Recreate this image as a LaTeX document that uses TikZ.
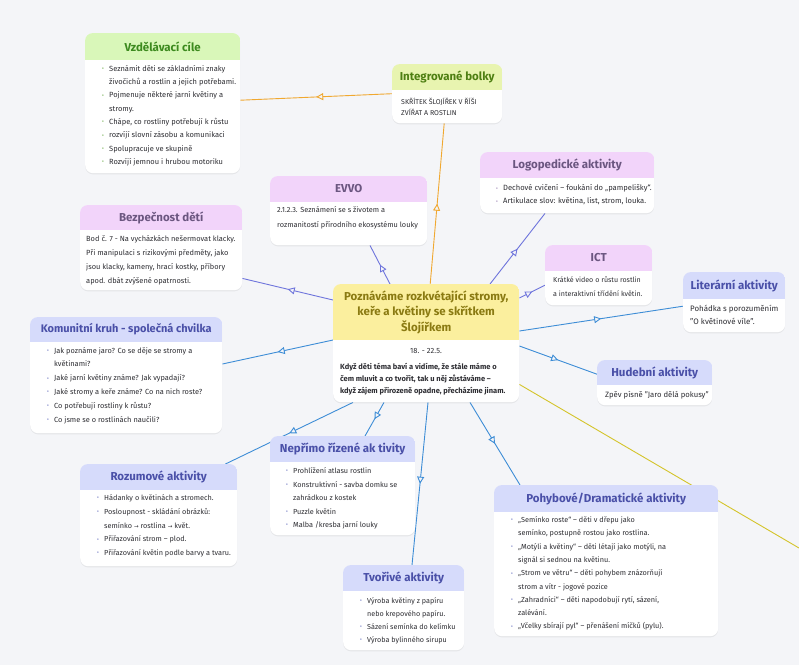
\documentclass[tikz,border=0pt]{standalone}
\usepackage{fontspec}
\setmainfont{Fira Sans}
\newfontfamily\symf{DejaVu Sans}
\usetikzlibrary{arrows.meta,decorations.markings,shadows}
\pgfdeclarelayer{back}
\pgfdeclarelayer{lines}
\pgfsetlayers{back,lines,main}

\definecolor{bgc}{HTML}{F4F5F8}
\definecolor{HG}{HTML}{D9F7B9}\definecolor{TG}{HTML}{3C8A1E}\definecolor{DG}{HTML}{5AA032}
\definecolor{HY}{HTML}{E8F4B0}\definecolor{TY}{HTML}{4E7F12}\definecolor{DY}{HTML}{7A9A20}
\definecolor{HP}{HTML}{F2D4FA}\definecolor{TP}{HTML}{6B5680}\definecolor{DP}{HTML}{8C70A8}
\definecolor{HB}{HTML}{D6DBFB}\definecolor{TB}{HTML}{4A50A8}\definecolor{DB}{HTML}{5560B8}
\definecolor{HC}{HTML}{FBEF9E}\definecolor{TC}{HTML}{8A7A12}\definecolor{DC}{HTML}{8A7A12}
\definecolor{LP}{HTML}{6E74DC}\definecolor{LB}{HTML}{3D8DD6}\definecolor{LO}{HTML}{F0A830}\definecolor{LY}{HTML}{D4C42A}
\definecolor{txt}{HTML}{2E2E33}
\colorlet{bulc}{DB}

\newcommand\bl{\makebox[7pt][l]{\raisebox{0.6pt}{\fontsize{5.5}{5}\selectfont\textcolor{bulc}{•}}}}
\newcommand\cl{\hspace*{7pt}}
\newcommand\ar{{\symf\fontsize{5.5}{5}\selectfont →}}

\newcommand\mmbox[8]{%
  \node[mmshape, minimum width=#4pt, minimum height=#5pt, anchor=north west] (#1) at (#2,#3) {};
  \begin{scope}
    \clip[rounded corners=8pt] (#1.north west) rectangle (#1.south east);
    \fill[H#7] (#1.north west) rectangle ([yshift=-#6pt]#1.north east);
  \end{scope}
  \colorlet{bulc}{D#7}%
  \node[ttl, text=T#7] (#1-t) at ([yshift=-#6pt/2]#1.north) {#8};
}

\tikzset{
  mmshape/.style={rectangle, rounded corners=8pt, fill=white, draw=none, inner sep=0pt,
    drop shadow={opacity=0.10, shadow xshift=0pt, shadow yshift=-1.2pt, fill=black!60}},
  ttl/.style={font=\bfseries\fontsize{11.5}{15.5}\selectfont, align=center, inner sep=0pt},
  bodytxt/.style={font=\fontsize{7.4}{13.5}\selectfont, text=txt, align=left, anchor=north west, inner sep=0pt},
  conn/.style={line width=0.9pt, postaction={decorate},
    decoration={markings, mark=at position 0.5 with {\arrow{Triangle[length=7pt, width=7pt, fill=bgc]}}}},
}

\begin{document}
\begin{tikzpicture}[x=1pt, y=-1pt]
\begin{pgfonlayer}{back}
  \fill[bgc] (0,0) rectangle (799,665);
\end{pgfonlayer}
\useasboundingbox (0,0) rectangle (799,665);

% ---------- boxes ----------
\mmbox{vz}{85}{33}{155}{140}{27}{G}{Vzdělávací cíle}
\node[bodytxt, font=\fontsize{7.5}{13.3}\selectfont] (vz-b) at (102,65) {\bl Seznámit děti se základními znaky\\\cl živočichů a rostlin a jejich potřebami.\\\bl Pojmenuje některé jarní květiny a\\\cl stromy.\\\bl Chápe, co rostliny potřebují k růstu\\\bl rozvíjí slovní zásobu a komunikaci\\\bl Spolupracuje ve skupině\\\bl Rozvíjí jemnou i hrubou motoriku};

\mmbox{ib}{392}{64}{110}{59}{26}{Y}{Integrované bolky}
\node[bodytxt, font=\fontsize{7}{11.5}\selectfont] (ib-b) at (401,97.5) {SKŘÍTEK ŠLOJÍŘEK V ŘÍŠI\\ZVÍŘAT A ROSTLIN};

\mmbox{lg}{480}{152}{174}{61}{26}{P}{Logopedické aktivity}
\node[bodytxt, font=\fontsize{7.6}{13}\selectfont] (lg-b) at (496,184.5) {\bl Dechové cvičení – foukání do „pampelišky“.\\\bl Artikulace  slov: květina, list, strom, louka.};

\mmbox{ev}{270}{176}{157}{69}{26}{P}{EVVO}
\node[bodytxt, font=\fontsize{7.35}{15}\selectfont] (ev-b) at (277,206) {2.1.2.3. Seznámení se s životem a\\rozmanitostí přírodního ekosystému louky};

\mmbox{bz}{80}{205}{162}{85}{25}{P}{Bezpečnost dětí}
\node[bodytxt, font=\fontsize{7.45}{14}\selectfont] (bz-b) at (86,235) {Bod č. 7 - Na vycházkách nešermovat klacky.\\Při manipulaci s rizikovými předměty, jako\\jsou klacky, kameny, hrací kostky, příbory\\apod. dbát zvýšené opatrnosti.};

\mmbox{ict}{545}{245}{107}{60}{26}{P}{ICT}
\node[bodytxt, font=\fontsize{7.1}{13.5}\selectfont] (ict-b) at (553,276.5) {Krátké video o růstu rostlin\\a interaktivní třídění květin.};

\mmbox{lit}{683}{272}{102}{60}{27}{B}{Literární aktivity}
\node[bodytxt, font=\fontsize{7.9}{12.5}\selectfont] (lit-b) at (690,305) {Pohádka s porozuměním\\"O květinové víle".};

\mmbox{c}{333}{284}{186}{118}{56}{C}{Poznáváme rozkvétající stromy,\\keře a květiny se skřítkem\\Šlojířkem}
\node[font=\fontsize{7.5}{9}\selectfont, text=txt, inner sep=0pt] (c-d) at (426,351) {18. - 22.5.};
\node[bodytxt, font=\bfseries\fontsize{7.5}{12}\selectfont] (c-b) at (340,363.5) {Když děti téma baví a vidíme, že stále máme o\\čem mluvit a co tvořit, tak u něj zůstáváme –\\když zájem přirozeně opadne, přecházíme jinam.};

\mmbox{kk}{30}{317}{192}{116}{25}{B}{{\fontsize{11}{13}\selectfont Komunitní kruh - společná chvilka}}
\node[bodytxt, font=\fontsize{7.4}{13.8}\selectfont] (kk-b) at (47,347) {\bl Jak poznáme jaro? Co se děje se stromy a\\\cl květinami?\\\bl Jaké jarní květiny známe? Jak vypadají?\\\bl Jaké stromy a keře známe? Co na nich roste?\\\bl Co potřebují rostliny k růstu?\\\bl Co jsme se o rostlinách naučili?};

\mmbox{hu}{597}{360}{115}{45}{25}{B}{Hudební aktivity}
\node[bodytxt, font=\fontsize{7.7}{12}\selectfont] (hu-b) at (605,391) {Zpěv písně "Jaro dělá pokusy"};

\mmbox{ro}{80}{464}{157}{102}{26}{B}{Rozumové aktivity}
\node[bodytxt, font=\fontsize{7.3}{13.75}\selectfont] (ro-b) at (97,494.5) {\bl Hádanky o květinách a stromech.\\\bl Posloupnost  - skládání obrázků:\\\cl semínko \ar{} rostlina \ar{} květ.\\\bl Přiřazování strom – plod.\\\bl Přiřazování květin podle barvy a tvaru.};

\mmbox{np}{270}{436}{145}{99}{26}{B}{Nepřímo řízené ak tivity}
\node[bodytxt, font=\fontsize{7.3}{13.5}\selectfont] (np-b) at (286,467.5) {\bl Prohlížení atlasu rostlin\\\bl Konstruktivní - savba domku se\\\cl zahrádkou z kostek\\\bl Puzzle květin\\\bl Malba /kresba jarní louky};

\mmbox{tv}{343}{565}{121}{85}{26}{B}{Tvořivé aktivity}
\node[bodytxt, font=\fontsize{7.2}{13}\selectfont] (tv-b) at (360,597.5) {\bl Výroba květiny z papíru\\\cl nebo krepového papíru.\\\bl Sázení semínka do kelímku\\\bl Výroba bylinného sirupu};

\mmbox{po}{494}{485}{224}{151}{27}{B}{Pohybové/Dramatické aktivity}
\node[bodytxt, font=\fontsize{7.3}{13.3}\selectfont] (po-b) at (511,516.5) {\bl „Semínko roste“ – děti v dřepu jako\\\cl semínko, postupně rostou jako rostlina.\\\bl „Motýli a květiny“ – děti létají jako motýli, na\\\cl signál si sednou na květinu.\\\bl „Strom ve větru“ – děti pohybem znázorňují\\\cl strom a vítr - jogové pozice\\\bl „Zahradníci“ – děti napodobují rytí, sázení,\\\cl zalévání.\\\bl „Včelky sbírají pyl“ – přenášení míčků (pylu).};

% ---------- connectors ----------
\coordinate (yend) at (799,548);
\begin{pgfonlayer}{lines}
  \draw[conn, draw=LO] (ib.west) -- ([shift={(0,-3)}]vz.east);
  \draw[conn, draw=LO] ([shift={(4,0)}]c.north) -- ([shift={(-3,0)}]ib.south);
  \draw[conn, draw=LP] ([shift={(157,0)}]c.north west) -- ([shift={(65,0)}]lg.south west);
  \draw[conn, draw=LP] ([shift={(57,0)}]c.north west) -- ([shift={(100,0)}]ev.south west);
  \draw[conn, draw=LP] ([shift={(0,16)}]c.north west) -- ([shift={(0,-12)}]bz.south east);
  \draw[conn, draw=LP] ([shift={(0,14)}]c.north east) -- ([shift={(0,10)}]ict.west);
  \draw[conn, draw=LB] ([shift={(0,47)}]c.north east) -- ([shift={(0,4)}]lit.west);
  \draw[conn, draw=LB] ([shift={(0,62)}]c.north east) -- ([shift={(0,-8.5)}]hu.west);
  \draw[conn, draw=LB] ([shift={(137,0)}]c.south west) -- ([shift={(26,0)}]po.north west);
  \draw[conn, draw=LB] ([shift={(95,0)}]c.south west) -- ([shift={(69,0)}]tv.north west);
  \draw[conn, draw=LB] ([shift={(51,0)}]c.south west) -- ([shift={(95,0)}]np.north west);
  \draw[conn, draw=LB] ([shift={(20,0)}]c.south west) -- ([shift={(-12,0)}]ro.north east);
  \draw[conn, draw=LB] ([shift={(0,56)}]c.north west) -- ([shift={(0,47)}]kk.north east);
  \draw[line width=0.9pt, draw=LY] ([shift={(0,-18)}]c.south east) -- (yend);
\end{pgfonlayer}
\end{tikzpicture}
\end{document}
